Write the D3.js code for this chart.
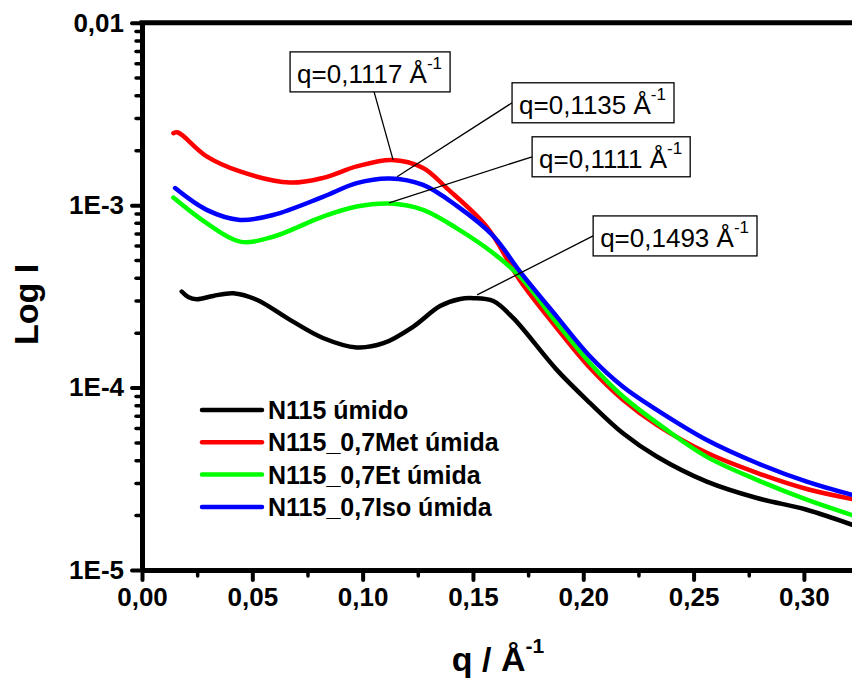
<!DOCTYPE html>
<html>
<head>
<meta charset="utf-8">
<script src="https://cdn.jsdelivr.net/npm/d3@7"></script>
<style>
  body { margin: 0; background: #fff; }
  svg { display: block; font-family: "Liberation Sans", Arial, sans-serif; }
</style>
</head>
<body>
<div id="chart"></div>
<script>
// values
var seriesNames = ["N115 úmido", "N115_0,7Met úmida", "N115_0,7Et úmida", "N115_0,7Iso úmida"];
var seriesColors = ["#000000", "#ff0000", "#00ff00", "#0000ff"];

var qUmido = [0.0180, 0.0209, 0.0248, 0.0323, 0.0414, 0.0520, 0.0671, 0.0820, 0.0973, 0.1094, 0.1230, 0.1351, 0.1442, 0.1502, 0.1592, 0.1683, 0.1880, 0.2031, 0.2180, 0.2333, 0.2560, 0.2787, 0.3013, 0.3219];
var iUmido = [3.36e-4, 3.14e-4, 3.05e-4, 3.18e-4, 3.29e-4, 3.03e-4, 2.35e-4, 1.87e-4, 1.66e-4, 1.75e-4, 2.16e-4, 2.80e-4, 3.06e-4, 3.09e-4, 2.98e-4, 2.40e-4, 1.25e-4, 8.22e-5, 5.62e-5, 4.19e-5, 3.05e-5, 2.48e-5, 2.14e-5, 1.77e-5];

var qMet = [0.0142, 0.0163, 0.0293, 0.0444, 0.0671, 0.0820, 0.0973, 0.1132, 0.1274, 0.1381, 0.1562, 0.1714, 0.1880, 0.2031, 0.2180, 0.2333, 0.2560, 0.2787, 0.3013, 0.3219];
var iMet = [2.48e-3, 2.50e-3, 1.85e-3, 1.53e-3, 1.33e-3, 1.41e-3, 1.63e-3, 1.77e-3, 1.60e-3, 1.24e-3, 7.62e-4, 3.85e-4, 2.12e-4, 1.28e-4, 8.57e-5, 6.25e-5, 4.39e-5, 3.41e-5, 2.78e-5, 2.45e-5];

var qEt = [0.0142, 0.0293, 0.0444, 0.0594, 0.0820, 0.0973, 0.1124, 0.1274, 0.1427, 0.1591, 0.1714, 0.1880, 0.2031, 0.2180, 0.2378, 0.2560, 0.2787, 0.3013, 0.3219];
var iEt = [1.10e-3, 7.96e-4, 6.31e-4, 6.71e-4, 8.65e-4, 9.82e-4, 1.02e-3, 9.42e-4, 7.46e-4, 5.47e-4, 4.05e-4, 2.26e-4, 1.36e-4, 8.93e-5, 5.86e-5, 4.17e-5, 3.12e-5, 2.43e-5, 2.00e-5];

var qIso = [0.0150, 0.0293, 0.0444, 0.0594, 0.0820, 0.0973, 0.1124, 0.1274, 0.1427, 0.1591, 0.1714, 0.1880, 0.2031, 0.2180, 0.2333, 0.2560, 0.2787, 0.3013, 0.3219];
var iIso = [1.24e-3, 9.42e-4, 8.30e-4, 8.83e-4, 1.11e-3, 1.32e-3, 1.40e-3, 1.29e-3, 9.90e-4, 6.80e-4, 4.31e-4, 2.45e-4, 1.48e-4, 1.01e-4, 7.55e-5, 5.16e-5, 3.86e-5, 3.05e-5, 2.58e-5];

var xTickValues = [0, 0.05, 0.10, 0.15, 0.20, 0.25, 0.30];
var xTickLabels = ["0,00", "0,05", "0,10", "0,15", "0,20", "0,25", "0,30"];
var yTickValues = [1e-5, 1e-4, 1e-3, 1e-2];
var yTickLabels = ["1E-5", "1E-4", "1E-3", "0,01"];

// peak labels: point on curve + box offset in px
var peakLabels = [
  { text: "q=0,1117", q: 0.1138, I: 1.77e-3, dx: -103, dy: -108, from: "bottom", fx: 84 },
  { text: "q=0,1135", q: 0.1156, I: 1.43e-3, dx: 115, dy: -94, from: "left" },
  { text: "q=0,1111", q: 0.1120, I: 1.03e-3, dx: 143, dy: -66, from: "left" },
  { text: "q=0,1493", q: 0.1519, I: 3.22e-4, dx: 116, dy: -79, from: "left" }
];

var W = 852, H = 679;
var padL = 142, padR = 852, padT = 22.7, padB = 570;

var svg = d3.select("#chart").append("svg")
  .attr("width", W)
  .attr("height", H);

var x = d3.scaleLinear().domain([0, 0.3218]).range([padL, padR]);
var y = d3.scaleLog().domain([1e-5, 1e-2]).range([padB, padT]);

var series = [
  { q: qUmido, I: iUmido },
  { q: qMet, I: iMet },
  { q: qEt, I: iEt },
  { q: qIso, I: iIso }
];

var line = d3.line()
  .x(function(d){ return x(d[0]) })
  .y(function(d){ return y(d[1]) })
  .curve(d3.curveCatmullRom.alpha(0.5));

svg.append("clipPath").attr("id", "clip")
  .append("rect").attr("x", padL).attr("y", padT).attr("width", padR - padL).attr("height", padB - padT);

var plot = svg.append("g").attr("clip-path", "url(#clip)");
series.forEach(function(s, k){
  plot.append("path")
    .datum(d3.zip(s.q, s.I))
    .attr("d", line)
    .attr("fill", "none")
    .attr("stroke", seriesColors[k])
    .attr("stroke-width", 4.5)
    .attr("stroke-linejoin", "round")
    .attr("stroke-linecap", "round");
});

// minor ticks
var minorX = d3.range(0.025, 0.33, 0.05);
svg.append("g")
  .attr("transform", "translate(0," + padB + ")")
  .call(d3.axisBottom(x).tickValues(minorX).tickSize(6).tickFormat(""))
  .call(function(g){ g.select(".domain").remove() })
  .selectAll("line").attr("stroke-width", 3.5).attr("stroke-linecap", "round");

var minorY = y.ticks().filter(function(v){
  var l = Math.log10(v);
  return Math.abs(l - Math.round(l)) > 1e-6;
});
svg.append("g")
  .attr("transform", "translate(" + padL + ",0)")
  .call(d3.axisLeft(y).tickValues(minorY).tickSize(6).tickFormat(""))
  .call(function(g){ g.select(".domain").remove() })
  .selectAll("line").attr("stroke-width", 3.5).attr("stroke-linecap", "round");

// major axes
var gx = svg.append("g")
  .attr("transform", "translate(0," + padB + ")")
  .call(d3.axisBottom(x).tickValues(xTickValues).tickSize(10).tickSizeOuter(0).tickPadding(8)
    .tickFormat(function(d, i){ return xTickLabels[i] }));
gx.select(".domain").attr("stroke-width", 5);
gx.selectAll(".tick line").attr("stroke-width", 4).attr("stroke-linecap", "round");
gx.selectAll("text").attr("font-size", 26).attr("font-weight", "bold")
  .attr("font-family", "Liberation Sans, Arial, sans-serif").attr("fill", "#000");

var gy = svg.append("g")
  .attr("transform", "translate(" + padL + ",0)")
  .call(d3.axisLeft(y).tickValues(yTickValues).tickSize(10).tickSizeOuter(0).tickPadding(8)
    .tickFormat(function(d, i){ return yTickLabels[i] }));
gy.select(".domain").attr("stroke-width", 5);
gy.selectAll(".tick line").attr("stroke-width", 4).attr("stroke-linecap", "round");
gy.selectAll("text").attr("font-size", 26).attr("font-weight", "bold")
  .attr("font-family", "Liberation Sans, Arial, sans-serif").attr("fill", "#000");

// top frame line
svg.append("line")
  .attr("x1", padL - 2.5).attr("x2", padR)
  .attr("y1", padT).attr("y2", padT)
  .attr("stroke", "#000").attr("stroke-width", 5);

// axis titles
svg.append("text")
  .attr("transform", "translate(38," + ((padT + padB) / 2 + 8) + ") rotate(-90)")
  .attr("text-anchor", "middle")
  .attr("font-size", 34).attr("font-weight", "bold")
  .text("Log I");

var xt = svg.append("text")
  .attr("x", 498).attr("y", 671)
  .attr("text-anchor", "middle")
  .attr("font-size", 34).attr("font-weight", "bold");
xt.append("tspan").text("q / Å");
xt.append("tspan").attr("font-size", 21).attr("dy", -18).text("-1");

// peak labels
peakLabels.forEach(function(p){
  var px = x(p.q), py = y(p.I);
  var bx = px + p.dx, by = py + p.dy, bh = 40;
  var g = svg.append("g");
  var t = g.append("text")
    .attr("x", bx + 7).attr("y", by + 31)
    .attr("font-size", 26);
  t.append("tspan").text(p.text + " Å");
  t.append("tspan").attr("font-size", 17).attr("dy", -14).text("-1");
  var bw = t.node().getComputedTextLength() + 15;
  var lx, ly;
  if (p.from === "bottom") { lx = bx + p.fx; ly = by + bh; }
  else { lx = bx; ly = by + bh / 2; }
  g.insert("line", "text")
    .attr("x1", lx).attr("y1", ly).attr("x2", px).attr("y2", py)
    .attr("stroke", "#000").attr("stroke-width", 1.3);
  g.insert("rect", "text")
    .attr("x", bx).attr("y", by).attr("width", bw).attr("height", bh)
    .attr("fill", "#fff").attr("stroke", "#000").attr("stroke-width", 1.3);
});

// legend
var legend = svg.append("g").attr("transform", "translate(202,410)");
seriesNames.forEach(function(name, i){
  var row = legend.append("g").attr("transform", "translate(0," + (i * 32.3) + ")");
  row.append("line")
    .attr("x1", 0).attr("x2", 60)
    .attr("stroke", seriesColors[i]).attr("stroke-width", 4.5).attr("stroke-linecap", "round");
  row.append("text")
    .attr("x", 66).attr("y", 9)
    .attr("font-size", 25).attr("font-weight", "bold")
    .text(name);
});
</script>
</body>
</html>
